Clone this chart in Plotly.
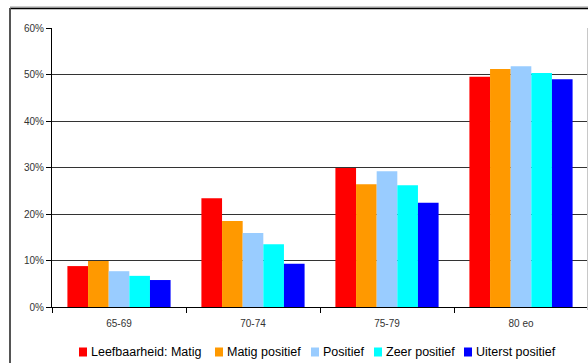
import plotly.graph_objects as go

# Age groups on the x axis
categories = ["65-69", "70-74", "75-79", "80 eo"]

# Liveability rating series (share of respondents per age group)
series_names = ["Leefbaarheid: Matig", "Matig positief", "Positief",
                "Zeer positief", "Uiterst positief"]
series_colors = ["#ff0000", "#ff9900", "#99ccff", "#00ffff", "#0000ff"]

matig = [0.088, 0.234, 0.299, 0.495]
matig_positief = [0.099, 0.185, 0.264, 0.512]
positief = [0.077, 0.159, 0.292, 0.518]
zeer_positief = [0.067, 0.135, 0.262, 0.503]
uiterst_positief = [0.058, 0.093, 0.224, 0.490]
series_values = [matig, matig_positief, positief, zeer_positief, uiterst_positief]

y_ticks = [0, 0.1, 0.2, 0.3, 0.4, 0.5, 0.6]

# Figure geometry in pixels
W, H = 588, 363
ML, MR, MT, MB = 52, 0, 28, 56
PW, PH = W - ML - MR, H - MT - MB


def px_x(p):
    return (p - ML) / PW


def px_y(p):
    return (H - MB - p) / PH


FONT = "Liberation Sans, Arial, sans-serif"

fig = go.Figure()
for name, color, vals in zip(series_names, series_colors, series_values):
    fig.add_trace(go.Bar(
        x=categories, y=vals, name=name,
        marker=dict(color=color, line=dict(width=0)),
        showlegend=False,
    ))

# Outer chart frame (left and top edges), plot area right edge
shapes = [
    dict(type="line", xref="paper", yref="paper",
         x0=px_x(10), x1=px_x(W + 10), y0=px_y(7), y1=px_y(7),
         line=dict(color="#9a9a9a", width=1)),
    dict(type="line", xref="paper", yref="paper",
         x0=px_x(10), x1=px_x(W + 10), y0=px_y(8.5), y1=px_y(8.5),
         line=dict(color="#000000", width=1.5)),
    dict(type="line", xref="paper", yref="paper",
         x0=px_x(10), x1=px_x(10), y0=px_y(8), y1=px_y(H + 10),
         line=dict(color="#555555", width=2)),
    dict(type="line", xref="paper", yref="paper",
         x0=px_x(587.5), x1=px_x(587.5), y0=px_y(MT), y1=px_y(310),
         line=dict(color="#c8c8c8", width=1)),
]

# Legend: colour swatches followed by series names
legend_swatch_x = [79, 215, 311, 374, 464]
legend_y = 352
annotations = []
for name, color, sx in zip(series_names, series_colors, legend_swatch_x):
    shapes.append(dict(type="rect", xref="paper", yref="paper",
                       x0=px_x(sx), x1=px_x(sx + 8),
                       y0=px_y(legend_y - 4.5), y1=px_y(legend_y + 4.5),
                       fillcolor=color, line=dict(width=0)))
    annotations.append(dict(xref="paper", yref="paper",
                            x=px_x(sx + 10), y=px_y(legend_y),
                            xanchor="left", yanchor="middle",
                            text=name, showarrow=False,
                            font=dict(family=FONT, size=12.5, color="#000000")))

fig.update_layout(
    width=W, height=H,
    margin=dict(l=ML, r=MR, t=MT, b=MB),
    paper_bgcolor="#ffffff", plot_bgcolor="#ffffff",
    barmode="group", bargap=0.23, bargroupgap=0,
    shapes=shapes, annotations=annotations,
    font=dict(family=FONT, size=10, color="#333333"),
)
fig.update_xaxes(
    type="category", showgrid=False,
    showline=True, linecolor="#000000", linewidth=1,
    ticks="outside", tickson="boundaries", ticklen=5, tickcolor="#000000",
    tickfont=dict(family=FONT, size=10, color="#333333"),
    ticklabelstandoff=7,
)
fig.update_yaxes(
    range=[0, 0.6], tickvals=y_ticks, tickformat=".0%",
    showgrid=True, gridcolor="#333333", gridwidth=1,
    showline=True, linecolor="#000000", linewidth=1,
    ticks="outside", ticklen=5, tickcolor="#000000",
    tickfont=dict(family=FONT, size=10, color="#333333"),
    zeroline=False,
)

fig.write_html("out.html")
